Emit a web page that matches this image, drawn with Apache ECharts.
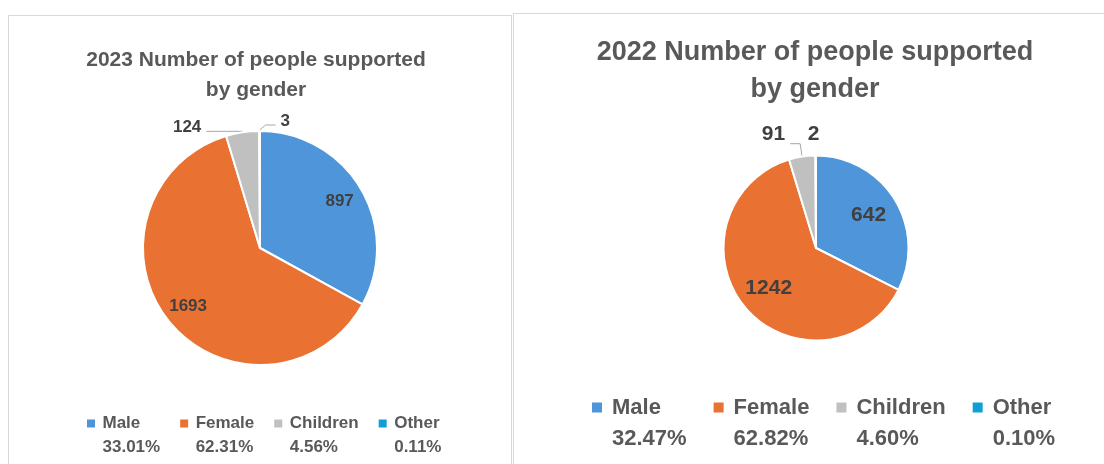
<!DOCTYPE html>
<html>
<head>
<meta charset="utf-8">
<script src="https://cdn.jsdelivr.net/npm/echarts@6/dist/echarts.min.js"></script>
<style>
html, body { margin: 0; padding: 0; background: #fff; width: 1104px; height: 464px; overflow: hidden; }
.panel { position: absolute; border: 1px solid #d9d9d9; background: #fff; }
#chart2023 { left: 8px; top: 15px; width: 502px; height: 470px; }
#chart2022 { left: 513px; top: 13px; width: 600px; height: 470px; }
</style>
</head>
<body>
<div id="chart2023" class="panel"></div>
<div id="chart2022" class="panel"></div>
<script>
// data
var categories = ['Male', 'Female', 'Children', 'Other'];
var values2023 = [897, 1693, 124, 3];
var values2022 = [642, 1242, 91, 2];
var colors = ['#4E95D9', '#E97132', '#C0C0C0', '#0F9ED5'];

var FONT = '"Liberation Sans", Arial, sans-serif';
var TEXT = '#595959';
var LABEL = '#404040';

function buildOption(cfg, values) {
    var total = values.reduce(function (a, b) { return a + b; }, 0);
    var pct = values.map(function (v) { return (v / total * 100).toFixed(2) + '%'; });

    var rich = {
        n: { fontSize: cfg.legendSize, fontWeight: 'bold', color: TEXT, fontFamily: FONT,
             lineHeight: cfg.legendLH, padding: [0, 0, 0, cfg.iconGap] },
        p: { fontSize: cfg.legendSize, fontWeight: 'bold', color: TEXT, fontFamily: FONT,
             lineHeight: cfg.legendLH, padding: [0, 0, 0, cfg.icon + cfg.iconGap] }
    };
    colors.forEach(function (c, i) {
        rich['i' + i] = { width: cfg.icon, height: cfg.icon, backgroundColor: c, lineHeight: cfg.legendLH };
    });

    // outer series: slices + the two small outside labels
    var mainData = categories.map(function (name, i) {
        var item = { name: name, value: values[i], itemStyle: { color: colors[i] } };
        if (i < 2 || (i === 3 && !cfg.otherLine)) item.labelLine = { show: false };
        return item;
    });
    // label-only series: the big inside labels
    var labelData = categories.map(function (name, i) {
        return { name: name, value: values[i], label: { show: i < 2 } };
    });

    var labelStyle = { fontSize: cfg.labelSize, fontWeight: 'bold', color: LABEL, fontFamily: FONT };

    return {
        animation: false,
        title: {
            text: cfg.title,
            left: cfg.titleX,
            top: cfg.titleY,
            textAlign: 'center',
            padding: 0,
            textStyle: { fontSize: cfg.titleSize, lineHeight: cfg.titleLH, fontWeight: 'bold', color: TEXT, fontFamily: FONT }
        },
        legend: {
            data: categories,
            left: cfg.legendX,
            top: cfg.legendY,
            orient: 'horizontal',
            padding: 0,
            icon: 'none',
            itemWidth: 0,
            itemHeight: 0,
            itemGap: cfg.itemGap,
            selectedMode: false,
            formatter: function (name) {
                var i = categories.indexOf(name);
                return '{i' + i + '|}{n|' + name + '}\n{p|' + pct[i] + '}';
            },
            textStyle: { rich: rich }
        },
        series: [{
            type: 'pie',
            center: cfg.center,
            radius: [0, cfg.r],
            startAngle: 90,
            clockwise: true,
            avoidLabelOverlap: false,
            emphasis: { disabled: true },
            itemStyle: { borderColor: '#fff', borderWidth: 2 },
            label: Object.assign({
                show: true,
                position: 'outside',
                formatter: function (p) { return p.dataIndex < 2 ? '' : String(p.value); }
            }, labelStyle),
            labelLine: { show: true, length: cfg.len, length2: cfg.len2, lineStyle: { color: '#a6a6a6', width: 1 } },
            labelLayout: function (p) {
                var r = p.labelRect;
                if (p.dataIndex === 2) {
                    // lift the label a little above its leader line, as Excel does
                    var out = { y: r.y + r.height / 2 - cfg.childLift, verticalAlign: 'middle' };
                    if (p.labelLinePoints) out.labelLinePoints = p.labelLinePoints;
                    return out;
                }
                if (p.dataIndex === 3) {
                    var e = [p.rect.x + p.rect.width / 2, p.rect.y];
                    if (cfg.otherLine) {
                        return {
                            x: e[0] + 21, y: e[1] - 9, align: 'left', verticalAlign: 'middle',
                            labelLinePoints: [e, [e[0] + 6, e[1] - 5], [e[0] + 16, e[1] - 5]]
                        };
                    }
                    return { x: e[0] - 2, y: e[1] - 20, align: 'center', verticalAlign: 'middle' };
                }
                return {};
            },
            data: mainData
        }, {
            type: 'pie',
            silent: true,
            center: cfg.center,
            radius: [cfg.r0label, cfg.r],
            startAngle: 90,
            clockwise: true,
            avoidLabelOverlap: false,
            emphasis: { disabled: true },
            itemStyle: { color: 'rgba(0,0,0,0)', borderWidth: 0 },
            label: Object.assign({ show: true, position: 'inside', formatter: '{c}' }, labelStyle),
            labelLine: { show: false },
            data: labelData
        }]
    };
}

var chart2023 = echarts.init(document.getElementById('chart2023'));
chart2023.setOption(buildOption({
    title: '2023 Number of people supported\nby gender',
    titleSize: 21, titleLH: 30, titleX: 247, titleY: 29,
    center: [251, 232], r: 117, r0label: 62, labelSize: 17,
    len: 1, len2: 36, otherLine: true, childLift: 4,
    legendX: 73, legendY: 399, legendSize: 17, legendLH: 23.4,
    icon: 8, iconGap: 7.5, itemGap: 15
}, values2023));

var chart2022 = echarts.init(document.getElementById('chart2022'));
chart2022.setOption(buildOption({
    title: '2022 Number of people supported\nby gender',
    titleSize: 27, titleLH: 37, titleX: 301, titleY: 20.5,
    center: [302, 234], r: 92.5, r0label: 25, labelSize: 21,
    len: 13, len2: 10, otherLine: false, childLift: 9,
    legendX: 73, legendY: 382.5, legendSize: 22, legendLH: 31,
    icon: 10, iconGap: 10, itemGap: 22
}, values2022));
</script>
</body>
</html>
